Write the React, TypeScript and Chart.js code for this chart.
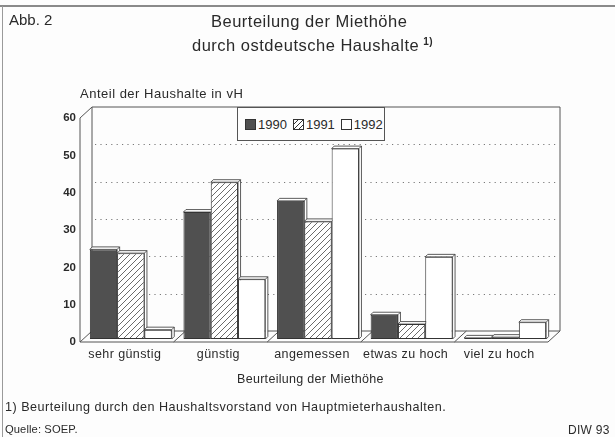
import React, { useEffect, useRef } from "react";
import { Chart, registerables } from "chart.js";

Chart.register(...registerables);

// ---------- data ----------
const categories = ["sehr günstig", "günstig", "angemessen", "etwas zu hoch", "viel zu hoch"];
const years = ["1990", "1991", "1992"];
const values1990 = [24, 34, 37, 6.5, 0.3];
const values1991 = [23, 42, 31.5, 4, 0.5];
const values1992 = [2.5, 16, 51, 22, 4.5];
const yTicks = [0, 10, 20, 30, 40, 50, 60];
const yAxisTitle = "Anteil der Haushalte in vH";
const xAxisTitle = "Beurteilung der Miethöhe";
const figureLabel = "Abb. 2";
const titleLine1 = "Beurteilung der Miethöhe";
const titleLine2 = "durch ostdeutsche Haushalte";
const footnote = "1) Beurteilung durch den Haushaltsvorstand von Hauptmieterhaushalten.";
const source = "Quelle:  SOEP.";
const credit = "DIW 93";

// ---------- style ----------
const FONT = '"Liberation Sans", Arial, Helvetica, sans-serif';
const INK = "#2a2a2a";
const FRAME = "#555";
const DARK = "#505050";
const FRONT = { dx: -4, dy: 3 };
const BACK = { dx: 8, dy: -8 };
const LIP = 2.5;

function makeHatch(): CanvasPattern | string {
  const s = 6;
  const c = document.createElement("canvas");
  c.width = s;
  c.height = s;
  const g = c.getContext("2d");
  if (!g) return "#fff";
  g.fillStyle = "#fff";
  g.fillRect(0, 0, s, s);
  g.strokeStyle = "#3a3a3a";
  g.lineWidth = 0.75;
  g.beginPath();
  g.moveTo(-1, s + 1);
  g.lineTo(s + 1, -1);
  g.moveTo(-1, 1);
  g.lineTo(1, -1);
  g.moveTo(s - 1, s + 1);
  g.lineTo(s + 1, s - 1);
  g.stroke();
  const p = g.createPattern(c, "repeat");
  return p || "#fff";
}

const box3dPlugin = {
  id: "box3d",
  beforeDatasetsDraw(chart: any) {
    const ctx: CanvasRenderingContext2D = chart.ctx;
    const xs = chart.scales.x;
    const ys = chart.scales.y;
    const L = chart.chartArea.left;
    const R = chart.chartArea.right;
    const T = ys.getPixelForValue(yTicks[yTicks.length - 1]);
    const B = ys.getPixelForValue(0);
    ctx.save();
    ctx.strokeStyle = FRAME;
    ctx.lineWidth = 1;
    // dotted grid on back wall
    ctx.save();
    ctx.strokeStyle = "#7a7a7a";
    ctx.setLineDash([1.2, 4.2]);
    for (const v of yTicks) {
      if (v === 0 || v === yTicks[yTicks.length - 1]) continue;
      const y = Math.round(ys.getPixelForValue(v) + BACK.dy) + 0.5;
      ctx.beginPath();
      ctx.moveTo(L + BACK.dx + 3, y);
      ctx.lineTo(R + BACK.dx - 2, y);
      ctx.stroke();
    }
    ctx.restore();
    // back wall
    ctx.beginPath();
    ctx.moveTo(L + BACK.dx, B + BACK.dy);
    ctx.lineTo(L + BACK.dx, T + BACK.dy);
    ctx.lineTo(R + BACK.dx, T + BACK.dy);
    ctx.lineTo(R + BACK.dx, B + BACK.dy);
    ctx.lineTo(L + BACK.dx, B + BACK.dy);
    ctx.stroke();
    // left side wall
    ctx.beginPath();
    ctx.moveTo(L + BACK.dx, T + BACK.dy);
    ctx.lineTo(L + FRONT.dx, T + FRONT.dy);
    ctx.lineTo(L + FRONT.dx, B + FRONT.dy);
    ctx.lineTo(L + BACK.dx, B + BACK.dy);
    ctx.stroke();
    // floor
    ctx.beginPath();
    ctx.moveTo(L + FRONT.dx, B + FRONT.dy);
    ctx.lineTo(R + FRONT.dx, B + FRONT.dy);
    ctx.lineTo(R + BACK.dx, B + BACK.dy);
    ctx.stroke();
    // floor dividers between categories
    for (let i = 1; i < categories.length; i++) {
      const xm = (xs.getPixelForValue(i - 1) + xs.getPixelForValue(i)) / 2;
      ctx.beginPath();
      ctx.moveTo(xm + FRONT.dx, B + FRONT.dy);
      ctx.lineTo(xm + BACK.dx, B + BACK.dy);
      ctx.stroke();
    }
    // y tick labels
    ctx.fillStyle = INK;
    ctx.font = `bold 11.5px ${FONT}`;
    ctx.textAlign = "right";
    ctx.textBaseline = "middle";
    for (const v of yTicks) {
      ctx.fillText(String(v), L + FRONT.dx - 4, ys.getPixelForValue(v) + FRONT.dy);
    }
    // x tick labels
    ctx.font = `12.5px ${FONT}`;
    (ctx as any).letterSpacing = "0.4px";
    ctx.textAlign = "center";
    categories.forEach((c, i) => {
      ctx.fillText(c, xs.getPixelForValue(i) - 6, B + 16);
    });
    ctx.restore();

    // bars, painted left to right with a small 3D lip
    const metas = [0, 1, 2].map((i) => chart.getDatasetMeta(i));
    ctx.save();
    metas.forEach((meta: any) => {
      meta.data.forEach((el: any) => {
        el.draw(ctx);
        const { x, y, base, width } = el.getProps(["x", "y", "base", "width"], true);
        const x0 = x - width / 2;
        const x1 = x + width / 2;
        ctx.fillStyle = "#fff";
        ctx.strokeStyle = "#333";
        ctx.lineWidth = 0.8;
        ctx.beginPath();
        ctx.moveTo(x0, y);
        ctx.lineTo(x0 + LIP, y - LIP);
        ctx.lineTo(x1 + LIP, y - LIP);
        ctx.lineTo(x1 + LIP, base - LIP);
        ctx.lineTo(x1, base);
        ctx.lineTo(x1, y);
        ctx.closePath();
        ctx.fill();
        ctx.stroke();
        ctx.beginPath();
        ctx.moveTo(x1, y);
        ctx.lineTo(x1 + LIP, y - LIP);
        ctx.stroke();
      });
    });
    ctx.restore();
    return false;
  },
};

const textStyle: React.CSSProperties = {
  position: "absolute",
  fontFamily: FONT,
  color: INK,
  whiteSpace: "nowrap",
  lineHeight: 1,
  transform: "translateY(-50%)",
};

function Swatch({ kind }: { kind: number }) {
  const base: React.CSSProperties = {
    display: "inline-block",
    width: 11,
    height: 11,
    border: "1px solid #333",
    boxSizing: "border-box",
    verticalAlign: "middle",
  };
  if (kind === 0) return <span style={{ ...base, background: DARK }} />;
  if (kind === 1)
    return (
      <span
        style={{
          ...base,
          background:
            "repeating-linear-gradient(-45deg, #fff 0px, #fff 2.6px, #333 2.6px, #333 3.4px)",
        }}
      />
    );
  return <span style={{ ...base, background: "#fff" }} />;
}

export default function App() {
  const ref = useRef<HTMLCanvasElement | null>(null);

  useEffect(() => {
    if (!ref.current) return;
    const hatch = makeHatch();
    const fills = [DARK, hatch, "#ffffff"];
    const series = [values1990, values1991, values1992];
    const chart = new Chart(ref.current, {
      type: "bar",
      data: {
        labels: categories,
        datasets: years.map((yr, i) => ({
          label: yr,
          data: series[i],
          backgroundColor: fills[i] as any,
          borderColor: "#333",
          borderWidth: 1,
          borderSkipped: false,
          categoryPercentage: 0.875,
          barPercentage: 1,
        })),
      },
      options: {
        responsive: false,
        animation: false,
        events: [],
        layout: { padding: { left: 84, right: 63, top: 115, bottom: 98 } },
        plugins: {
          legend: { display: false },
          tooltip: { enabled: false },
          title: { display: false },
        },
        scales: {
          x: { display: false },
          y: { display: false, min: 0, max: 60 },
        },
      },
      plugins: [box3dPlugin],
    });
    return () => chart.destroy();
  }, []);

  return (
    <div
      style={{
        position: "absolute",
        left: 0,
        top: 0,
        width: 615,
        height: 437,
        background: "#fdfdfd",
        overflow: "hidden",
      }}
    >
      <div style={{ position: "absolute", left: 0, top: 5, width: 615, height: 2, background: "#8a8a8a" }} />
      <div style={{ position: "absolute", left: 2, top: 6, width: 1, height: 431, background: "#9a9a9a" }} />
      <canvas ref={ref} width={615} height={437} style={{ position: "absolute", left: 0, top: 0 }} />
      <div style={{ ...textStyle, left: 9, top: 19, fontSize: 15 }}>{figureLabel}</div>
      <div style={{ ...textStyle, left: 211, top: 21, fontSize: 16.5, letterSpacing: 0.5 }}>{titleLine1}</div>
      <div style={{ ...textStyle, left: 192, top: 45, fontSize: 16.5, letterSpacing: 0.5 }}>
        {titleLine2}
        <sup style={{ fontSize: 10, fontWeight: "bold", marginLeft: 4, verticalAlign: 6 }}>1)</sup>
      </div>
      <div style={{ ...textStyle, left: 80, top: 93, fontSize: 13, letterSpacing: 0.5 }}>{yAxisTitle}</div>
      <div
        style={{
          position: "absolute",
          left: 237,
          top: 107,
          width: 148,
          height: 34,
          boxSizing: "border-box",
          border: "1px solid #555",
          background: "#fdfdfd",
          display: "flex",
          alignItems: "center",
          paddingLeft: 7,
          fontFamily: FONT,
          fontSize: 13,
          color: INK,
        }}
      >
        {years.map((yr, i) => (
          <span key={yr} style={{ display: "inline-flex", alignItems: "center", marginRight: 6 }}>
            <Swatch kind={i} />
            <span style={{ marginLeft: 2 }}>{yr}</span>
          </span>
        ))}
      </div>
      <div style={{ ...textStyle, left: 237, top: 379, fontSize: 12.5, letterSpacing: 0.3 }}>{xAxisTitle}</div>
      <div style={{ ...textStyle, left: 5, top: 407, fontSize: 12.6, letterSpacing: 0.5 }}>{footnote}</div>
      <div style={{ ...textStyle, left: 5, top: 430, fontSize: 11.2, letterSpacing: 0.1 }}>{source}</div>
      <div style={{ ...textStyle, left: 568, top: 430, fontSize: 12, letterSpacing: 0.3 }}>{credit}</div>
    </div>
  );
}
